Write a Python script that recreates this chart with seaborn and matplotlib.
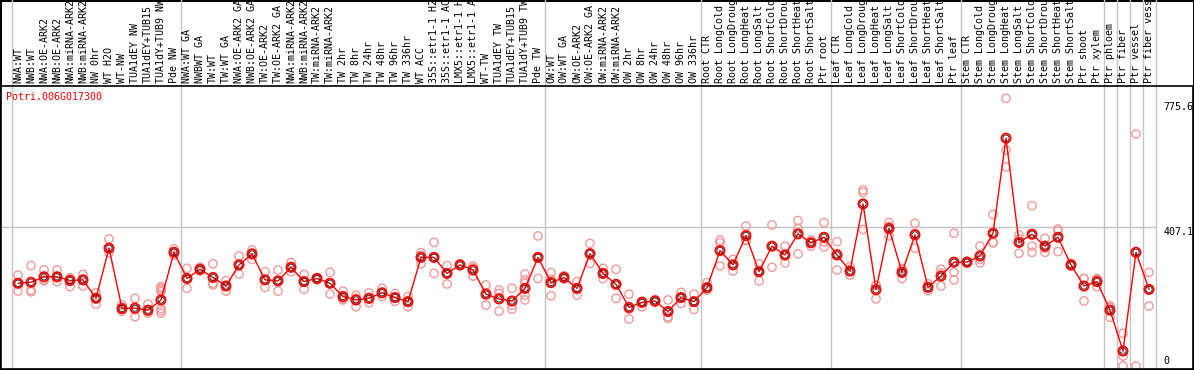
"""Expression profile of Potri.006G017300 across poplar sample groups."""

import matplotlib

matplotlib.use("Agg")

import matplotlib.pyplot as plt
import matplotlib.transforms as mtransforms
import pandas as pd
import seaborn as sns

GENE_ID = "Potri.006G017300"

sample_labels = [
    "NWA:WT", "NWB:WT", "NWA:OE-ARK2", "NWB:OE-ARK2", "NWA:miRNA-ARK2", "NWB:miRNA-ARK2",
    "NW 0hr", "WT H2O", "WT-NW", "TUA1dEY NW", "TUA1dEY+TUB15", "TUA1dY+TUB9 NW", "Pde NW",
    "NWA:WT GA", "NWBWT GA", "TW:WT", "TW:WT GA", "NWA:OE-ARK2 GA", "NWB:OE-ARK2 GA",
    "TW:OE-ARK2", "TW:OE-ARK2 GA", "NWA:miRNA-ARK2", "NWB:miRNA-ARK2", "TW:miRNA-ARK2",
    "TW:miRNA-ARK2", "TW 2hr", "TW 8hr", "TW 24hr", "TW 48hr", "TW 96hr", "TW 336hr",
    "WT ACC", "35S::etr1-1 H2", "35S::etr1-1 AC", "LMX5::etr1-1 H", "LMX5::etr1-1 A",
    "WT-TW", "TUA1dEY TW", "TUA1dEY+TUB15", "TUA1dY+TUB9 TW", "Pde TW",
    "OW:WT", "OW:WT GA", "OW:OE-ARK2", "OW:OE-ARK2 GA", "OW:miRNA-ARK2", "OW:miRNA-ARK2",
    "OW 2hr", "OW 8hr", "OW 24hr", "OW 48hr", "OW 96hr", "OW 336hr",
    "Root CTR", "Root LongCold", "Root LongDroug", "Root LongHeat", "Root LongSalt",
    "Root ShortCold", "Root ShortDrou", "Root ShortHeat", "Root ShortSalt", "Ptr root",
    "Leaf CTR", "Leaf LongCold", "Leaf LongDroug", "Leaf LongHeat", "Leaf LongSalt",
    "Leaf ShortCold", "Leaf ShortDrou", "Leaf ShortHeat", "Leaf ShortSalt", "Ptr leaf",
    "Stem CTR", "Stem LongCold", "Stem LongDroug", "Stem LongHeat", "Stem LongSalt",
    "Stem ShortCold", "Stem ShortDrou", "Stem ShortHeat", "Stem ShortSalt", "Ptr shoot",
    "Ptr xylem", "Ptr phloem", "Ptr fiber", "Ptr vessel", "Ptr fiber vessel",
]

mean_expression = [
    243, 246, 262, 262, 251, 253, 199, 346, 169, 170, 164, 194, 334,
    257, 284, 260, 235, 297, 329, 253, 250, 290, 248, 257, 243, 204, 194, 199, 215, 201, 189,
    319, 319, 272, 297, 282, 211, 197, 191, 228, 319,
    245, 260, 228, 330, 272, 240, 172, 187, 191, 160, 201, 189,
    230, 339, 297, 383, 277, 352, 326, 388, 362, 378,
    326, 279, 476, 224, 404, 275, 385, 231, 264, 305,
    305, 323, 390, 669, 363, 387, 352, 378, 297, 235,
    248, 164, 44, 334, 225,
]

replicate_expression = [
    [267, 243, 220], [295, 223, 218], [282, 253, 250], [282, 262, 248], [259, 255, 233],
    [269, 255, 235], [215, 199, 182], [373, 333, 346], [179, 167, 161], [199, 165, 145],
    [182, 160, 155], [233, 228, 223, 218, 169, 162, 155], [344, 334, 325],
    [287, 257, 228], [290, 284, 278], [300, 243, 238], [251, 235, 220], [323, 297, 270],
    [341, 332, 313], [277, 253, 231], [282, 250, 220], [304, 290, 277], [269, 248, 225],
    [260, 257, 253], [275, 243, 211], [220, 199, 194], [208, 199, 174], [215, 196, 186],
    [228, 215, 204], [213, 201, 190], [204, 189, 174], [333, 325, 300], [363, 319, 272],
    [295, 272, 241], [300, 297, 294], [294, 288, 264], [238, 215, 179], [223, 213, 161],
    [228, 178, 167], [270, 253, 243, 208, 194], [382, 319, 257],
    [274, 255, 206], [265, 260, 255], [248, 228, 208], [360, 330, 301], [287, 272, 257],
    [284, 240, 199], [211, 167, 138], [190, 187, 174], [195, 191, 187], [194, 145, 140],
    [216, 201, 184], [211, 189, 166],
    [245, 230, 223], [370, 362, 294], [313, 297, 279], [411, 370, 368], [300, 279, 250],
    [414, 352, 290], [352, 326, 303], [427, 404, 329], [370, 362, 352], [421, 365, 350],
    [365, 330, 282], [292, 278, 267], [517, 510, 401], [238, 237, 197], [421, 410, 382],
    [287, 282, 257], [419, 390, 346], [241, 231, 221], [284, 273, 235], [390, 275, 253],
    [308, 305, 302], [352, 313, 303], [445, 363, 362], [786, 634, 585], [385, 373, 331],
    [471, 352, 334], [375, 346, 334], [402, 396, 336], [301, 297, 293], [257, 257, 191],
    [257, 254, 233], [177, 172, 143], [96, 29, 0], [681, 0], [275, 225, 176],
]

group_boundaries = [-0.5, 12.5, 40.5, 52.5, 62.5, 72.5, 83.5, 84.5, 85.5, 86.5, 87.5]
y_tick_values = [775.6, 407.1, 0]
y_tick_text = ["775.6", "407.1", "0"]


def main() -> None:
    sns.set_style("white")
    plt.rcParams["font.family"] = ["DejaVu Sans Mono"]

    mean_df = pd.DataFrame({"pos": range(len(mean_expression)), "expr": mean_expression})
    rep_rows = [
        {"pos": pos, "expr": value}
        for pos, values in enumerate(replicate_expression)
        for value in values
    ]
    rep_df = pd.DataFrame(rep_rows)

    fig = plt.figure(figsize=(11.94, 3.70), dpi=100)
    ax = fig.add_axes([1 / 1194, 1 / 370, 1192 / 1194, 283 / 370])
    ax.set_xlim(-17 / 13, 1175 / 13)
    ax.set_ylim(-8.8, 822.3)

    # x in data units, y in axes units so the header text sits above the plot
    header = mtransforms.blended_transform_factory(ax.transData, ax.transAxes)
    ax.vlines(group_boundaries, 0, 1.31, transform=header, colors="#c4c4c4",
              linewidth=1, clip_on=False, zorder=1)
    ax.hlines(407.1, -1.4, 87.5, colors="#c4c4c4", linewidth=1, zorder=1)

    sns.scatterplot(data=rep_df, x="pos", y="expr", ax=ax, marker="o", s=36,
                    facecolors="none", edgecolor="#f09a9a", linewidth=1.0, zorder=2)
    sns.lineplot(data=mean_df, x="pos", y="expr", ax=ax, color="#ff0000",
                 linewidth=1.0, zorder=3)
    sns.scatterplot(data=mean_df, x="pos", y="expr", ax=ax, marker="o", s=44,
                    facecolors="none", edgecolor="#ff0000", linewidth=1.3, zorder=4)
    sns.scatterplot(data=mean_df, x="pos", y="expr", ax=ax, marker="o", s=20,
                    facecolors="none", edgecolor="#000000", linewidth=0.5, zorder=5)

    for pos, label in enumerate(sample_labels):
        ax.text(pos, 1 + 3 / 283, label, transform=header, rotation=90,
                ha="center", va="bottom", fontsize=7.2, color="black", clip_on=False)

    for value, text in zip(y_tick_values, y_tick_text):
        ax.text(88.1, value, text, ha="left", va="bottom" if value == 0 else "top",
                fontsize=7.2, color="black")

    ax.text(-0.95, 1 - 6 / 283, GENE_ID, transform=header,
            ha="left", va="top", fontsize=7.2, color="#ff0000")

    ax.set_xlabel("")
    ax.set_ylabel("")
    ax.set_xticks([])
    ax.set_yticks([])
    for spine in ax.spines.values():
        spine.set_color("black")
        spine.set_linewidth(1.2)

    fig.patch.set_edgecolor("black")
    fig.patch.set_linewidth(2)
    fig.savefig("out.png", dpi=100, edgecolor=fig.get_edgecolor())
    plt.close(fig)


if __name__ == "__main__":
    main()
